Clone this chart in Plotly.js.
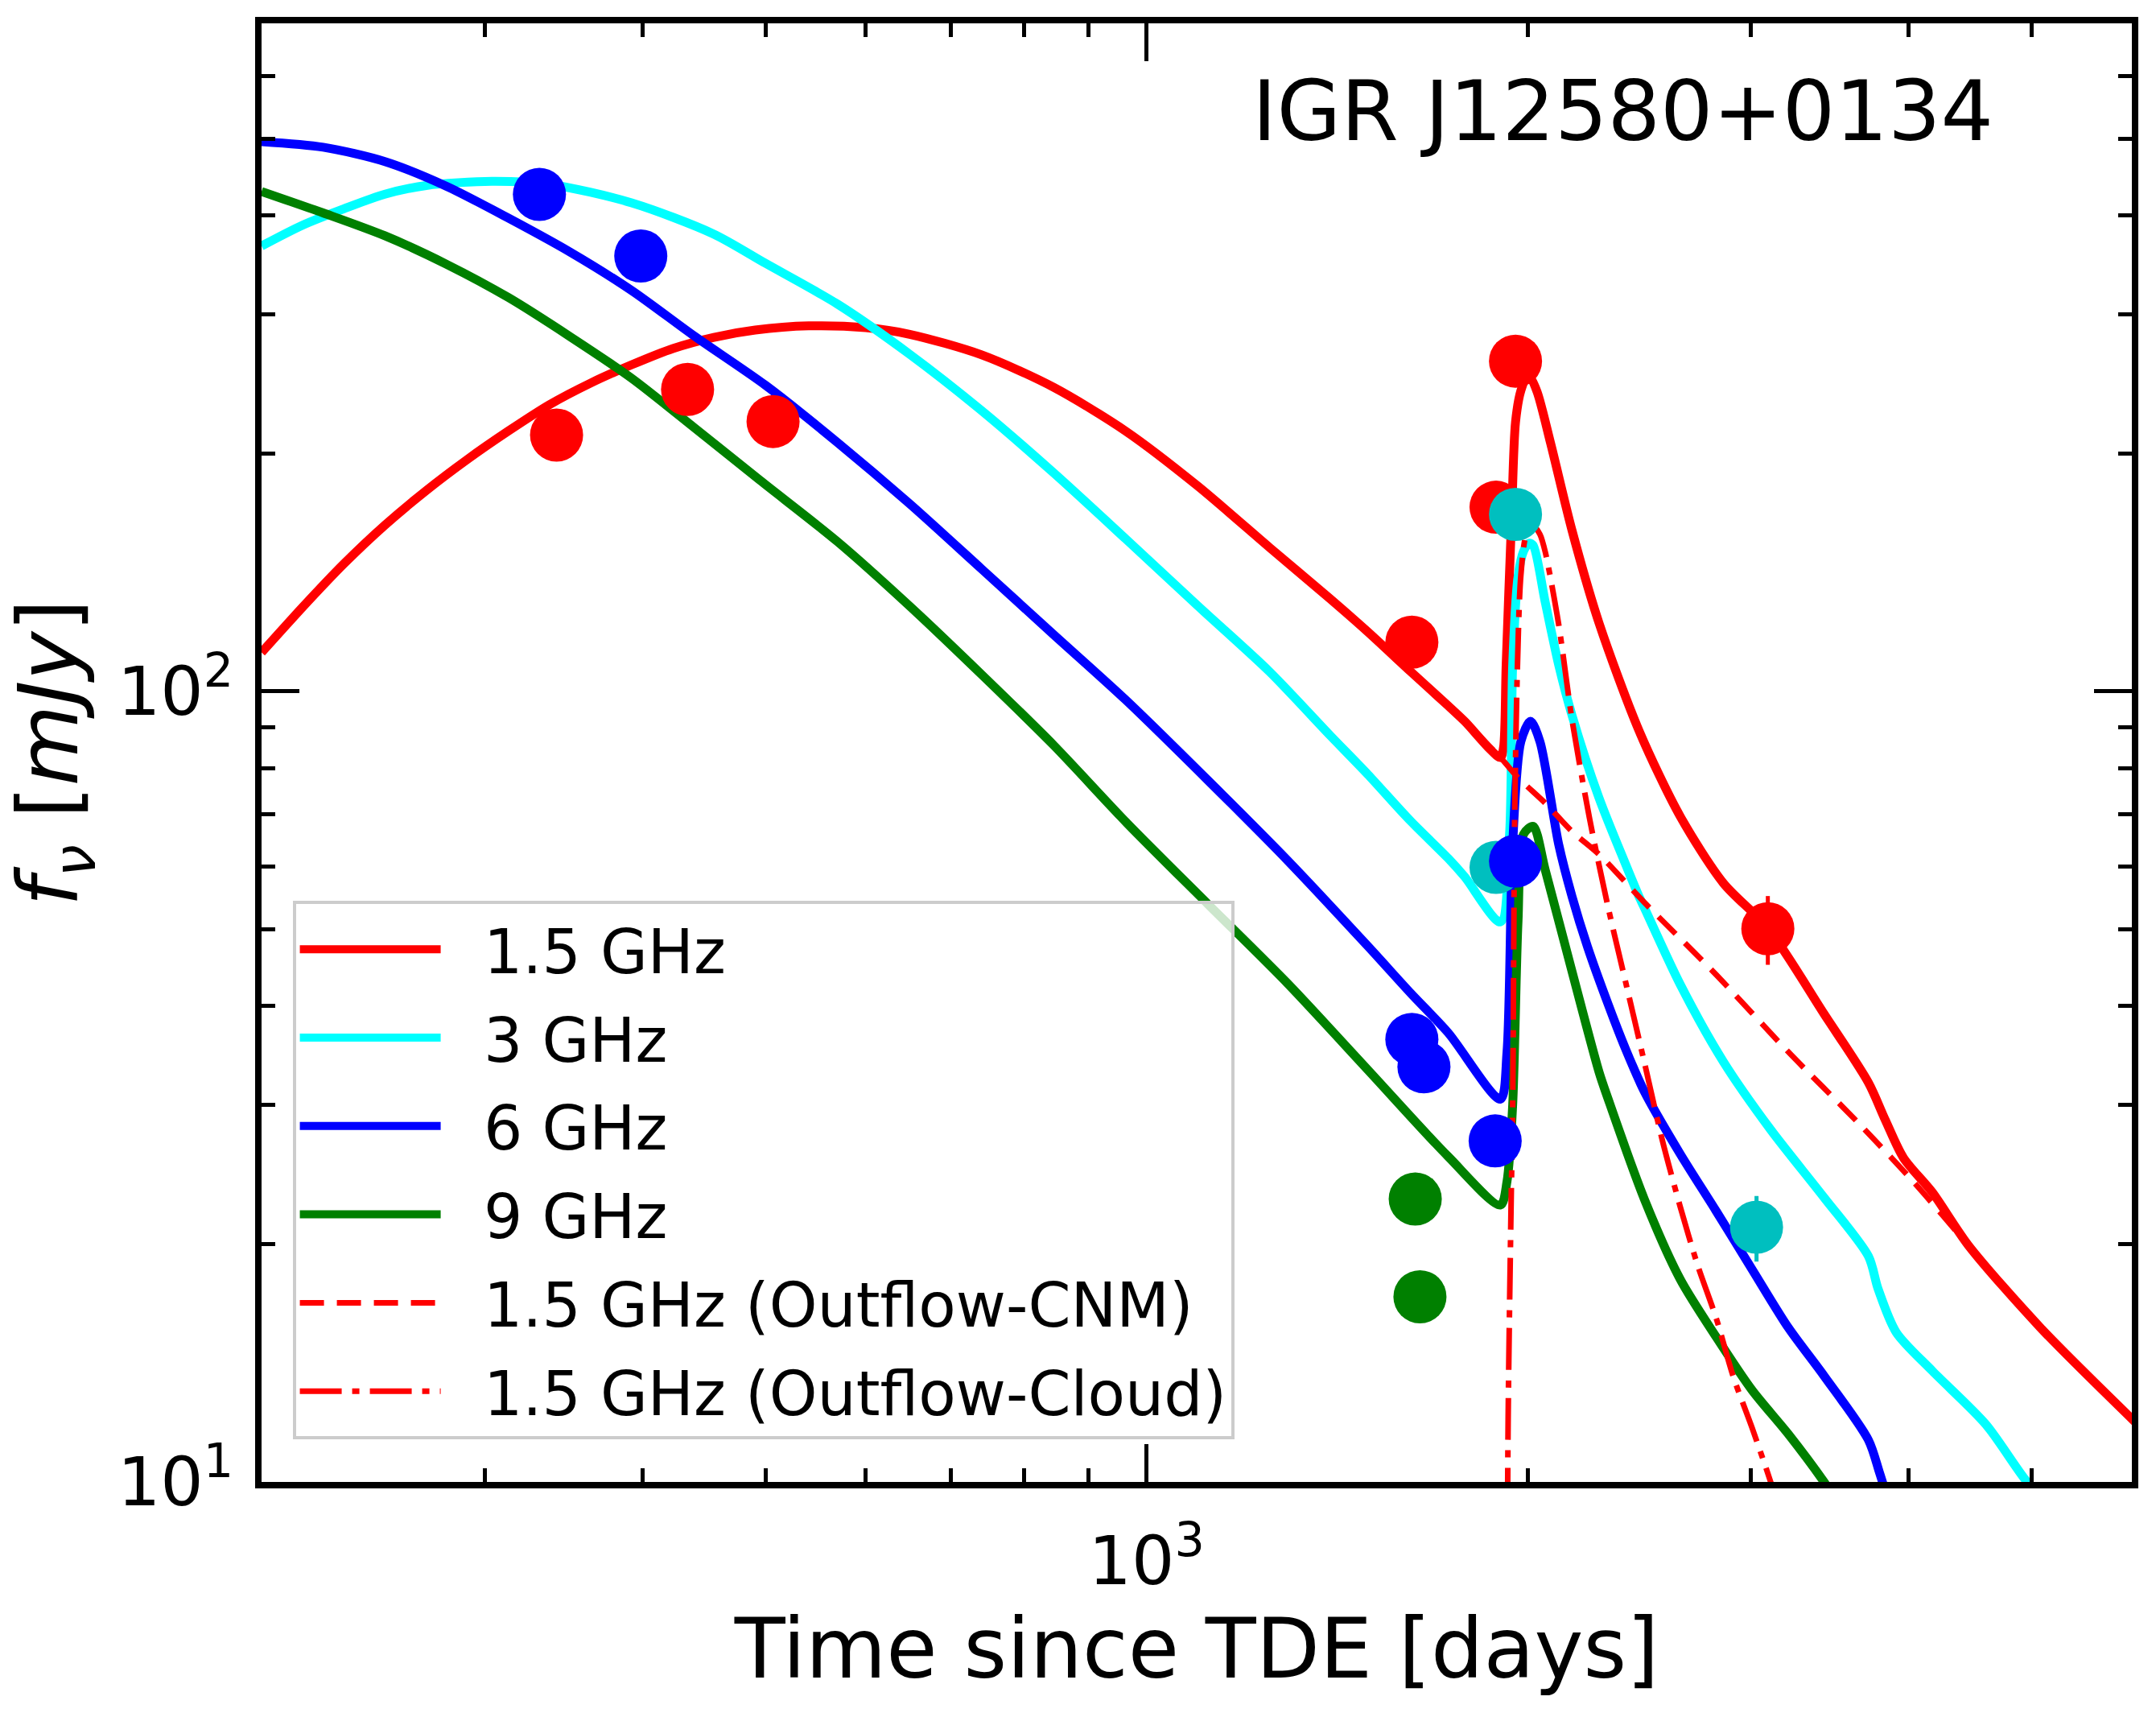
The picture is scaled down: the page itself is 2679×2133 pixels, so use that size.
<!DOCTYPE html>
<html>
<head>
<meta charset="utf-8">
<script src="https://cdn.plot.ly/plotly-3.0.1.min.js"></script>
<style>html,body{margin:0;padding:0;background:#fff;}</style>
</head>
<body>
<div id="chart" style="width:2679px;height:2133px;"></div>
<script>
// ---- model curves (time since TDE [days], flux [mJy]) ----
const t15 = [200, 215.5, 232.3, 250.3, 269.8, 290.7, 313.3, 337.6, 363.9, 392.2, 422.6, 455.3, 490.8, 541, 600, 650, 741, 844.5, 962.5, 1097, 1251, 1396, 1495.7, 1617, 1730.6, 1783, 1903, 1914, 1923, 1942, 1956, 1975, 1995, 2010, 2035, 2085, 2168, 2277, 2450, 2639, 2855, 3098, 3428, 3716, 3832, 3961, 4174, 4457, 5080, 6058];
const f15 = [112, 127.8, 145, 162.3, 179.5, 196.5, 213.5, 230.5, 245.5, 259, 271.5, 280.5, 286.5, 290, 288.5, 283, 266.5, 242.5, 213.5, 182, 152, 131, 118.9, 105.9, 95.9, 91.7, 82.5, 85, 108, 165, 219, 240, 249, 249, 239, 206, 159.7, 122, 89, 69.5, 57.2, 50.1, 39.1, 32.0, 28.7, 25.7, 23.25, 19.92, 15.68, 11.84];

const t3 = [200, 215.5, 232.3, 250.3, 269.8, 304, 337.6, 392, 455, 500, 570, 650, 741, 844.5, 962.5, 1097, 1250, 1396, 1495.7, 1617, 1730.6, 1783, 1903, 1935, 1946, 1965, 1985, 2005, 2020, 2065, 2116, 2168, 2277, 2391, 2449, 2472, 2639, 2855, 3111, 3428, 3716, 3782, 3909, 4174, 4600, 4960, 5100];
const f3 = [366, 388.9, 407.9, 425.6, 436.5, 441.9, 438, 415, 379, 348, 309, 267, 226.5, 189, 156, 128.4, 106, 88, 78.5, 68.5, 61.5, 58.3, 51.1, 66, 108, 139.6, 150.5, 154, 153, 129.5, 108, 93.2, 73.3, 60.3, 55, 53.3, 42.6, 34.0, 27.9, 22.9, 19.3, 17.55, 15.46, 13.82, 11.83, 10.0, 9.6];

const t6 = [200, 223.7, 250.3, 280, 313.3, 350.6, 392, 438.7, 500, 570, 650, 741, 844.5, 962.5, 1117, 1292.6, 1495.7, 1617, 1730.6, 1903, 1926, 1946, 1975, 2010, 2045, 2116, 2168, 2230, 2315, 2391, 2472, 2639, 2818, 3008, 3212, 3428, 3716, 3790, 3850];
const f6 = [496, 488, 468, 435.5, 397, 359.5, 321.5, 282, 244, 206.5, 172.7, 142.8, 118, 97.6, 77.3, 61.1, 47.6, 41.5, 37.0, 30.5, 35.0, 64, 86.4, 91.7, 86.4, 64, 55, 47.5, 40.2, 35.2, 31.2, 26.0, 22.0, 18.57, 15.68, 13.62, 11.3, 10.3, 9.5];

const t9 = [200, 223.7, 250.3, 280, 313.3, 350.6, 392, 438.7, 495, 570, 650, 741, 844.5, 965.4, 1117, 1292.6, 1495.7, 1730.6, 1903, 1926, 1946, 1965, 1985, 2020, 2065, 2168, 2277, 2315, 2472, 2639, 2818, 3008, 3212, 3428, 3500];
const f9 = [429, 403, 377, 347, 315, 281, 249, 216, 185, 154.7, 128.2, 105, 85.5, 68.1, 53.9, 42.7, 33.2, 25.8, 22.4, 24.0, 30, 51.2, 66.0, 67.5, 59.4, 44.2, 33, 30.5, 22.8, 18.05, 15.25, 13.06, 11.5, 10.0, 9.5];

const tCNM = [1495.7, 1617, 1730.6, 1903, 1965, 2065, 2168, 2277, 2472, 2818, 3212, 3661, 4040, 4457, 5080, 6058];
const fCNM = [118.9, 105.9, 95.9, 82.5, 77.8, 72.2, 66.5, 62.2, 54.1, 43.8, 35.0, 28.3, 23.9, 19.92, 15.68, 11.84];

const tCloud = [1925, 1930, 1940, 1946, 1953, 1963, 1975, 1995, 2020, 2045, 2065, 2115, 2168, 2239, 2315, 2392, 2472, 2554, 2639, 2724, 2818, 2906, 3008, 3111, 3250];
const fCloud = [5, 12, 22, 30, 69, 108, 140, 158, 162, 158, 150, 122, 92, 68.8, 53.3, 42.6, 34.0, 27.1, 22.3, 18.8, 16.1, 13.6, 11.7, 10.0, 8];

// ---- observed points ----
const obsT15 = [342, 434, 507, 1620, 1888, 1956, 3095];
const obsF15 = [211, 241, 219.5, 115.4, 171, 261.7, 50.1];
const obsE15 = [0, 0, 0, 0, 0, 0, 5];
const obsT3 = [1888, 1956, 3032];
const obsF3 = [59.9, 167.5, 21.0];
const obsE3 = [0, 0, 2];
const obsT6 = [331.5, 398.6, 1620, 1656, 1885, 1956];
const obsF6 = [425.4, 355.4, 36.3, 33.5, 27.0, 61.0];
const obsT9 = [1630, 1644];
const obsF9 = [22.8, 17.15];

// ---- labels / ticks ----
const legendNames = ['1.5 GHz', '3 GHz', '6 GHz', '9 GHz', '1.5 GHz (Outflow-CNM)', '1.5 GHz (Outflow-Cloud)'];
const xMajor = [1000];
const xMajorText = ['10<sup>3</sup>'];
const xMinor = [200, 300, 400, 500, 600, 700, 800, 900, 2000, 3000, 4000, 5000, 6000];
const yMajor = [10, 100];
const yMajorText = ['10<sup>1</sup>', '10<sup>2</sup>'];
const yMinor = [20, 30, 40, 50, 60, 70, 80, 90, 200, 300, 400, 500, 600, 700];
const sourceName = 'IGR J12580+0134';

const RED = '#ff0000', CYAN = '#00ffff', BLUE = '#0000ff', GREEN = '#008000', CMARK = '#00bfbf';
const PAD = '\u00a0\u00a0';

function lineTrace(x, y, color, name, dash, width, grp) {
  return {x: x, y: y, type: 'scatter', mode: 'lines', name: PAD + name, legendgroup: grp,
          line: {color: color, width: width, dash: dash, shape: 'spline', smoothing: 0.8},
          hoverinfo: 'skip'};
}
function ptsTrace(x, y, color, err) {
  const t = {x: x, y: y, type: 'scatter', mode: 'markers', showlegend: false,
             marker: {color: color, size: 66, line: {width: 0}}, hoverinfo: 'skip'};
  if (err) t.error_y = {type: 'data', array: err, visible: true, thickness: 5, width: 0, color: color};
  return t;
}

const data = [
  lineTrace(t15, f15, RED, legendNames[0], 'solid', 11, 'g1'),
  lineTrace(t3, f3, CYAN, legendNames[1], 'solid', 11, 'g2'),
  lineTrace(t6, f6, BLUE, legendNames[2], 'solid', 11, 'g3'),
  lineTrace(t9, f9, GREEN, legendNames[3], 'solid', 11, 'g4'),
  lineTrace(tCNM, fCNM, RED, legendNames[4], '30px,16px', 7, 'g5'),
  lineTrace(tCloud, fCloud, RED, legendNames[5], '52px,13px,9px,13px', 7, 'g6'),
  ptsTrace(obsT15, obsF15, RED, obsE15),
  ptsTrace(obsT3, obsF3, CMARK, obsE3),
  ptsTrace(obsT6, obsF6, BLUE),
  ptsTrace(obsT9, obsF9, GREEN)
];

const axisCommon = {
  type: 'log', tickmode: 'array', ticks: 'inside', ticklen: 47, tickwidth: 5, tickcolor: 'black',
  showline: true, linewidth: 8, linecolor: 'black', mirror: 'allticks',
  showgrid: false, zeroline: false, tickfont: {size: 84, color: 'black', family: 'DejaVu Sans'}
};

const layout = {
  width: 2679, height: 2133,
  margin: {l: 325, r: 30, t: 29, b: 292, autoexpand: false},
  paper_bgcolor: 'white', plot_bgcolor: 'white',
  font: {family: 'DejaVu Sans', color: 'black'},
  showlegend: true,
  xaxis: Object.assign({}, axisCommon, {
    range: [Math.log10(200), Math.log10(6000)],
    tickvals: xMajor, ticktext: xMajorText, ticklabelstandoff: 18,
    minor: {tickmode: 'array', tickvals: xMinor, ticks: 'inside', ticklen: 17, tickwidth: 5, tickcolor: 'black', showgrid: false},
    title: {text: 'Time since TDE [days]', font: {size: 103, color: 'black', family: 'DejaVu Sans'}, standoff: 20}
  }),
  yaxis: Object.assign({}, axisCommon, {
    range: [1, Math.log10(700)],
    tickvals: yMajor, ticktext: yMajorText, ticklabelstandoff: 10,
    minor: {tickmode: 'array', tickvals: yMinor, ticks: 'inside', ticklen: 17, tickwidth: 5, tickcolor: 'black', showgrid: false},
    title: {text: '<i>f</i><sub><i>ν</i></sub> [<i>mJy</i>]', font: {size: 103, color: 'black', family: 'DejaVu Sans'}, standoff: 32}
  }),
  legend: {
    x: 0.0166, y: 0.3983, xanchor: 'left', yanchor: 'top',
    bgcolor: 'rgba(255,255,255,0.8)', bordercolor: '#cccccc', borderwidth: 4,
    font: {size: 76, color: 'black', family: 'DejaVu Sans'},
    traceorder: 'grouped', tracegroupgap: 8, itemwidth: 175
  },
  annotations: [{
    xref: 'paper', yref: 'paper', x: 0.7279, y: 0.9398, xanchor: 'center', yanchor: 'middle',
    text: sourceName, showarrow: false, font: {size: 103, color: 'black', family: 'DejaVu Sans'}
  }]
};

Plotly.newPlot('chart', data, layout, {displayModeBar: false, staticPlot: true});
</script>
</body>
</html>
